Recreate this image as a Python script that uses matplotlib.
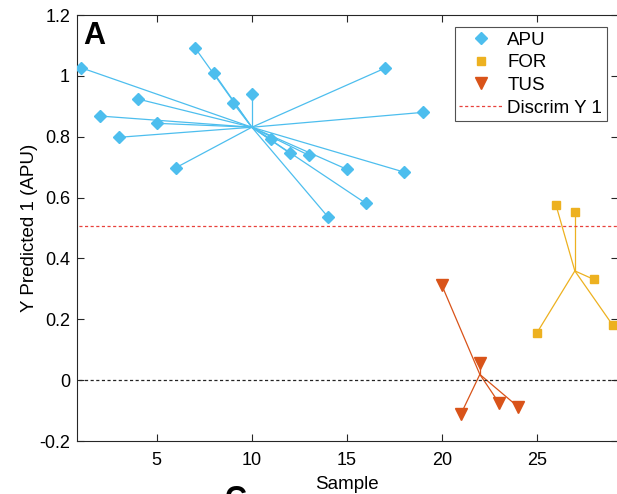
import matplotlib.pyplot as plt
import numpy as np

plt.rcParams['font.family'] = ['Liberation Sans', 'DejaVu Sans']

# predicted Y1 per sample, grouped by class
apu_x = np.arange(1, 20)
apu_y = [1.027, 0.868, 0.798, 0.924, 0.844, 0.698, 1.093, 1.010, 0.912, 0.941,
         0.792, 0.746, 0.739, 0.537, 0.693, 0.581, 1.025, 0.684, 0.880]
tus_x = np.arange(20, 25)
tus_y = [0.312, -0.112, 0.055, -0.074, -0.087]
for_x = np.arange(25, 30)
for_y = [0.155, 0.577, 0.552, 0.331, 0.180]
discrim_y1 = 0.508

c_apu = '#4DBEEE'
c_for = '#EDB120'
c_tus = '#D95319'

fig = plt.figure(figsize=(6.17, 4.94), dpi=100)
ax = fig.add_axes([77 / 617, 53 / 494, 540.6 / 617, 426 / 494])


def star(x, y, color, marker, ms):
    # lines from each sample to the class mean, then the markers
    x = np.asarray(x, float)
    y = np.asarray(y, float)
    cx, cy = x.mean(), y.mean()
    for xi, yi in zip(x, y):
        ax.plot([cx, xi], [cy, yi], color=color, lw=0.9, zorder=2)
    return ax.plot(x, y, linestyle='none', marker=marker, ms=ms,
                   color=color, mec=color, zorder=3)[0]


h1 = star(apu_x, apu_y, c_apu, 'D', 6.5)
h2 = star(for_x, for_y, c_for, 's', 5.5)
h3 = star(tus_x, tus_y, c_tus, 'v', 8)

h4, = ax.plot([0, 30], [discrim_y1, discrim_y1], ls=(0, (2.5, 2)), color='#E8413C', lw=0.9)
ax.plot([0, 30], [0, 0], ls=(0, (2.5, 2)), color='#222222', lw=0.9)

ax.set_xlim(0.8, 29.25)
ax.set_ylim(-0.2, 1.2)
ax.set_xticks([5, 10, 15, 20, 25])
ax.set_yticks(np.arange(-0.2, 1.21, 0.2))
ax.set_yticklabels(['-0.2', '0', '0.2', '0.4', '0.6', '0.8', '1', '1.2'])
ax.tick_params(direction='in', top=True, right=True, labelsize=13,
               length=5, width=0.8, colors='#262626', labelcolor='black', pad=5)
ax.tick_params(axis='x', pad=8)
for s in ax.spines.values():
    s.set_color('#262626')
    s.set_linewidth(0.8)

ax.set_xlabel('Sample', fontsize=13.5, labelpad=5)
ax.set_ylabel('Y Predicted 1 (APU)', fontsize=13.5, labelpad=1)

ax.text(0.012, 0.985, 'A', transform=ax.transAxes, fontsize=22,
        fontweight='bold', va='top', ha='left')

leg = ax.legend([h1, h2, h3, h4], ['APU', 'FOR', 'TUS', 'Discrim Y 1'],
                loc='upper right', bbox_to_anchor=(606.7 / 617, 1 - 26.7 / 494),
                bbox_transform=fig.transFigure, fontsize=13.5, frameon=True,
                fancybox=False, edgecolor='#262626', borderpad=0.25,
                labelspacing=0.3, handlelength=2.3, handletextpad=0.25,
                borderaxespad=0)
leg.get_frame().set_linewidth(0.8)

# next panel's label peeking in at the bottom
fig.text(225 / 617, 9 / 494, 'C', fontsize=22, fontweight='bold',
         va='top', ha='left')

fig.savefig('out.png', dpi=100)
